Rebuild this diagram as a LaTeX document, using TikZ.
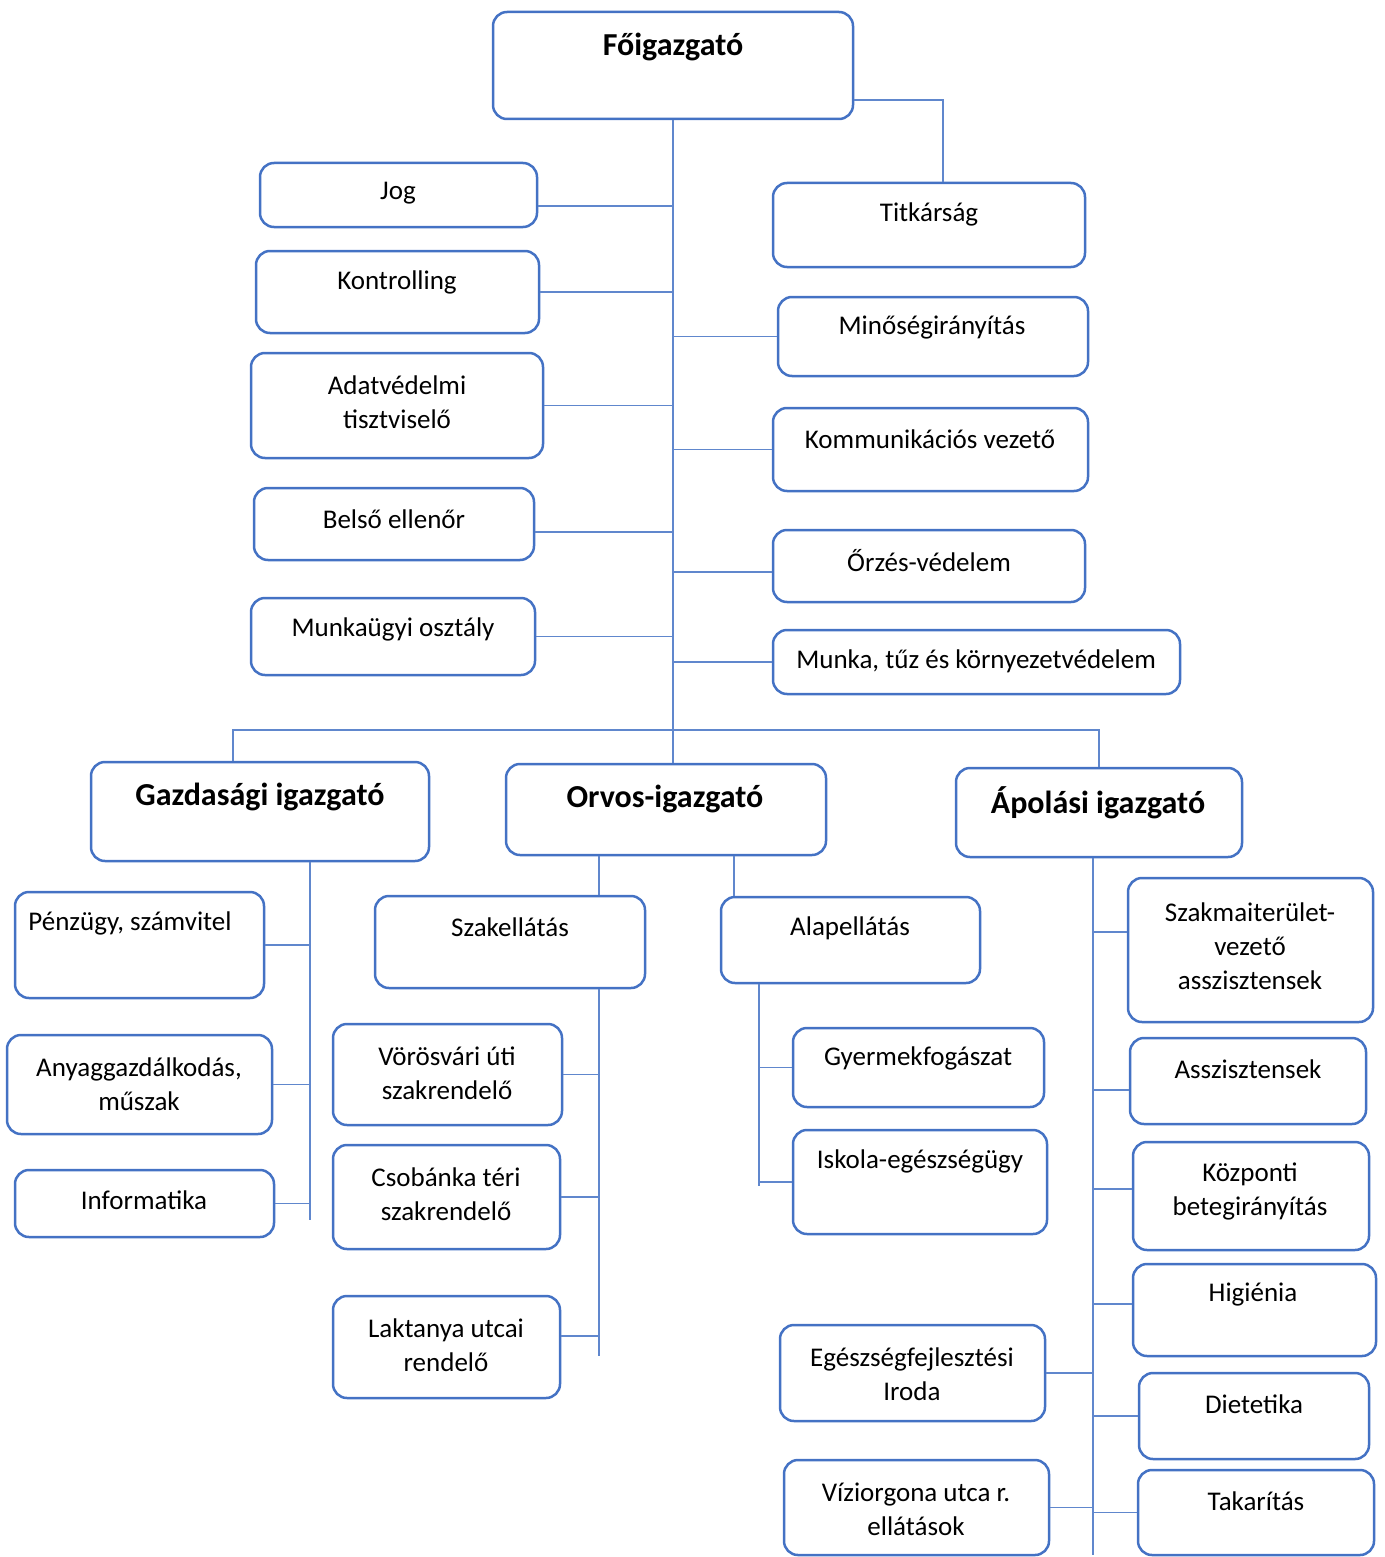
\documentclass[tikz,border=0pt]{standalone}
\usepackage{fontspec}
\setmainfont{Carlito}
\definecolor{orgblue}{HTML}{4472C4}

\begin{document}
\begin{tikzpicture}[x=1pt,y=-1pt,
    unit/.style={draw=orgblue,line width=2.5pt,rounded corners=14pt},
    unittext/.style={font=\fontsize{27}{34}\selectfont,align=center},
    chieftext/.style={font=\fontsize{32}{36}\selectfont\bfseries},
    link/.style={draw=orgblue!85,line width=1.3pt}]
  \useasboundingbox (0,0) rectangle (1384,1557);

  % vezetes
  \node[unit,minimum width=360,minimum height=107] (top)   at ( 673,  65.5) {};
  \node[unit,minimum width=277,minimum height=64]  (jog)   at ( 398.5,195)  {};
  \node[unit,minimum width=283,minimum height=82]  (kontr) at ( 397.5,292)  {};
  \node[unit,minimum width=292,minimum height=105] (adat)  at ( 397,  405.5) {};
  \node[unit,minimum width=280,minimum height=72]  (bels)  at ( 394,  524)  {};
  \node[unit,minimum width=284,minimum height=77]  (munk)  at ( 393,  636.5) {};
  \node[unit,minimum width=312,minimum height=84]  (titk)  at ( 929,  225)  {};
  \node[unit,minimum width=310,minimum height=79]  (minos) at ( 933,  336.5) {};
  \node[unit,minimum width=315,minimum height=83]  (komm)  at ( 930.5,449.5) {};
  \node[unit,minimum width=312,minimum height=72]  (orz)   at ( 929,  566)  {};
  \node[unit,minimum width=407,minimum height=64]  (tuz)   at ( 976.5,662)  {};

  \node[chieftext] (topt)   at (673,47)  {Főigazgató};
  \node[unittext] (jogt)   at (398,193) {Jog};
  \node[unittext] (kontrt) at (397,282) {Kontrolling};
  \node[unittext] (adatt)  at (397,402) {Adatvédelmi\\tisztviselő};
  \node[unittext] (belst)  at (394,519) {Belső ellenőr};
  \node[unittext] (munkt)  at (393,629) {Munkaügyi osztály};
  \node[unittext] (titkt)  at (929,214) {Titkárság};
  \node[unittext] (minost) at (932,328) {Minőségirányítás};
  \node[unittext] (kommt)  at (930,439) {Kommunikációs vezető};
  \node[unittext] (orzt)   at (929,561) {Őrzés-védelem};
  \node[unittext] (tuzt)   at (976,661) {Munka, tűz és környezetvédelem};

  % igazgatok
  \node[unit,minimum width=338,minimum height=99] (gazd)  at ( 260,  811.5) {};
  \node[unit,minimum width=320,minimum height=91] (orvos) at ( 666,  809.5) {};
  \node[unit,minimum width=286,minimum height=89] (apol)  at (1099,  812.5) {};

  \node[chieftext] (gazdt)  at ( 260,797) {Gazdasági igazgató};
  \node[chieftext] (orvost) at ( 665,799) {Orvos-igazgató};
  \node[chieftext] (apolt)  at (1098,803) {Ápolási igazgató};

  % gazdasagi ag
  \node[unit,minimum width=249,minimum height=106] (penz)  at (139.5, 945)  {};
  \node[unit,minimum width=265,minimum height=99]  (anyag) at (139.5,1084.5) {};
  \node[unit,minimum width=259,minimum height=67]  (info)  at (144.5,1203.5) {};

  \node[unittext] (penzt)  at (130, 923) {Pénzügy, számvitel};
  \node[unittext] (anyagt) at (139,1084) {Anyaggazdálkodás,\\műszak};
  \node[unittext] (infot)  at (144,1200) {Informatika};

  % orvosi ag
  \node[unit,minimum width=270,minimum height=92]  (szak)  at (510,   942)  {};
  \node[unit,minimum width=259,minimum height=86]  (alap)  at (850.5, 940)  {};
  \node[unit,minimum width=229,minimum height=101] (voros) at (447.5,1074.5) {};
  \node[unit,minimum width=227,minimum height=104] (csob)  at (446.5,1197)  {};
  \node[unit,minimum width=227,minimum height=102] (lakt)  at (446.5,1347)  {};
  \node[unit,minimum width=251,minimum height=79]  (gyer)  at (918.5,1067.5) {};
  \node[unit,minimum width=254,minimum height=104] (isk)   at (920,  1182)  {};

  \node[unittext] (szakt)  at (510, 927) {Szakellátás};
  \node[unittext] (alapt)  at (850, 928) {Alapellátás};
  \node[unittext] (vorost) at (447,1073) {Vörösvári úti\\szakrendelő};
  \node[unittext] (csobt)  at (446,1194) {Csobánka téri\\szakrendelő};
  \node[unittext] (laktt)  at (446,1345) {Laktanya utcai\\rendelő};
  \node[unittext] (gyert)  at (918,1058) {Gyermekfogászat};
  \node[unittext] (iskt)   at (920,1161) {Iskola-egészségügy};

  % apolasi ag
  \node[unit,minimum width=245,minimum height=144] (szmv)  at (1250.5, 950)  {};
  \node[unit,minimum width=236,minimum height=86]  (asszi) at (1248,  1081)  {};
  \node[unit,minimum width=236,minimum height=108] (kozp)  at (1251,  1196)  {};
  \node[unit,minimum width=243,minimum height=92]  (higi)  at (1254.5,1310)  {};
  \node[unit,minimum width=265,minimum height=96]  (egfi)  at ( 912.5,1373)  {};
  \node[unit,minimum width=230,minimum height=86]  (diet)  at (1254,  1416)  {};
  \node[unit,minimum width=265,minimum height=95]  (vizi)  at ( 916.5,1507.5) {};
  \node[unit,minimum width=236,minimum height=85]  (tak)   at (1256,  1512.5) {};

  \node[unittext] (szmvt)  at (1250, 946) {Szakmaiterület-\\vezető\\asszisztensek};
  \node[unittext] (asszit) at (1248,1069) {Asszisztensek};
  \node[unittext] (kozpt)  at (1250,1191) {Központi\\betegirányítás};
  \node[unittext] (higit)  at (1253,1295) {Higiénia};
  \node[unittext] (egfit)  at ( 912,1374) {Egészségfejlesztési\\Iroda};
  \node[unittext] (dietet) at (1254,1404) {Dietetika};
  \node[unittext] (vizit)  at ( 916,1509) {Víziorgona utca r.\\ellátások};
  \node[unittext] (takt)   at (1256,1501) {Takarítás};

  % osszekotesek
  \coordinate (tk)  at ( 943, 100);
  \coordinate (bar) at ( 672, 730);
  \coordinate (gz)  at ( 310,1220);
  \coordinate (sz)  at ( 599,1356);
  \coordinate (al)  at ( 734, 900);
  \coordinate (ag)  at ( 759,1186);
  \coordinate (ap)  at (1093,1555);

  \draw[link] (top.south) -- (top.south |- orvos.north)
              (top.east |- tk) -- (tk) -- (tk |- titk.north);
  \draw[link] ([yshift=-11pt]jog.east) -- ([yshift=-11pt]jog.east -| top.south)
              (kontr.east) -- (kontr.east -| top.south)
              (adat.east)  -- (adat.east -| top.south)
              ([yshift=-8pt]bels.east) -- ([yshift=-8pt]bels.east -| top.south)
              (munk.east)  -- (munk.east -| top.south)
              (minos.west) -- (minos.west -| top.south)
              (komm.west)  -- (komm.west -| top.south)
              ([yshift=-6pt]orz.west) -- ([yshift=-6pt]orz.west -| top.south)
              (tuz.west)   -- (tuz.west -| top.south);
  \draw[link] ([xshift=-27pt]gazd.north) |- (bar) -| (apol.north);

  \draw[link] (gazd.south -| gz) -- (gz)
              (penz.east)  -- (penz.east -| gz)
              (anyag.east) -- (anyag.east -| gz)
              (info.east)  -- (info.east -| gz);

  \draw[link] (orvos.south -| sz) -- (szak.north -| sz)
              (szak.south -| sz) -- (sz)
              (voros.east) -- (voros.east -| sz)
              (csob.east)  -- (csob.east -| sz)
              ([yshift=11pt]lakt.east) -- ([yshift=11pt]lakt.east -| sz);
  \draw[link] (orvos.south -| al) -- (alap.north -| al)
              (alap.south -| ag) -- (ag)
              (gyer.west) -- (gyer.west -| ag)
              (isk.west)  -- (isk.west -| ag);

  \draw[link] (apol.south -| ap) -- (ap)
              ([yshift=18pt]szmv.west) -- ([yshift=18pt]szmv.west -| ap)
              ([yshift=-9pt]asszi.west) -- ([yshift=-9pt]asszi.west -| ap)
              ([yshift=7pt]kozp.west) -- ([yshift=7pt]kozp.west -| ap)
              ([yshift=6pt]higi.west) -- ([yshift=6pt]higi.west -| ap)
              (egfi.east) -- (egfi.east -| ap)
              (diet.west) -- (diet.west -| ap)
              (vizi.east) -- (vizi.east -| ap)
              (tak.west)  -- (tak.west -| ap);
\end{tikzpicture}
\end{document}
